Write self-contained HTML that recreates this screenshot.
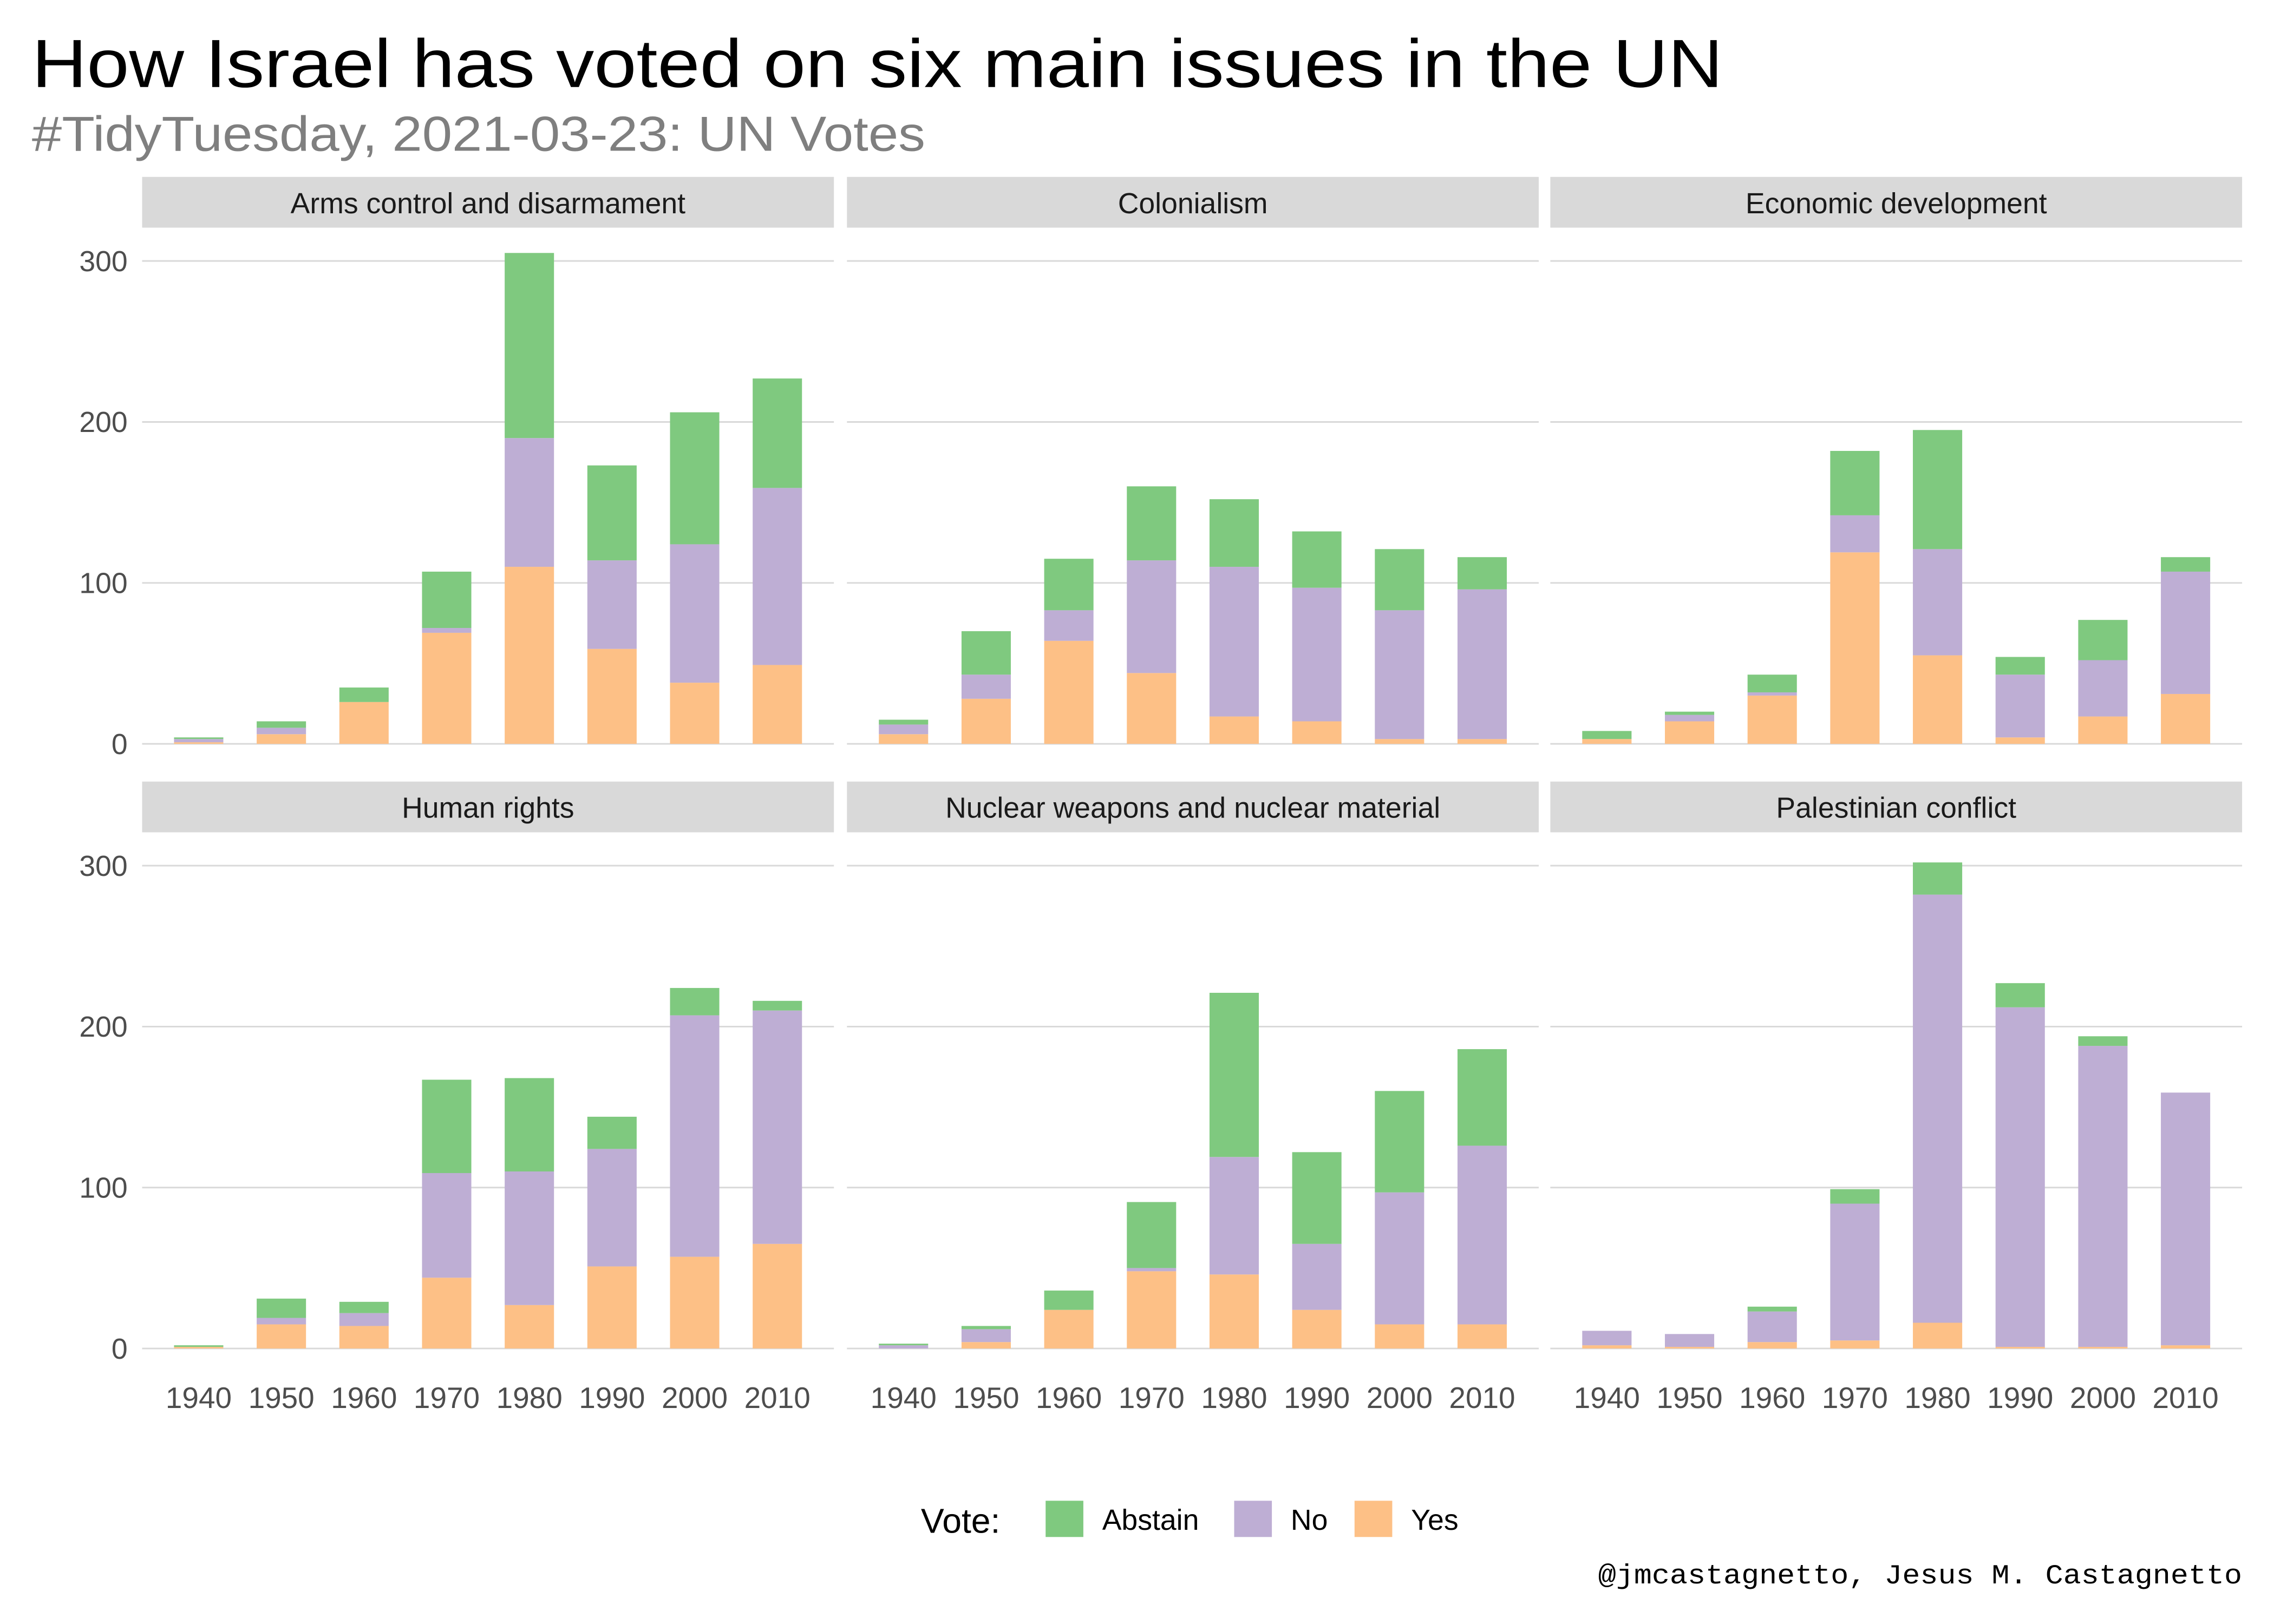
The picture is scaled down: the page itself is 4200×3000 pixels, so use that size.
<!DOCTYPE html>
<html><head><meta charset="utf-8"><style>
html,body{margin:0;padding:0;background:#fff}
svg{display:block}
text{font-family:"Liberation Sans",sans-serif}
</style></head><body>
<svg id="chart" width="4200" height="3000" viewBox="0 0 1568 1120" xmlns="http://www.w3.org/2000/svg">
<rect width="1568" height="1120" fill="#fff"/>
<text x="22" y="60" font-size="47" fill="#000" textLength="1166" lengthAdjust="spacingAndGlyphs">How Israel has voted on six main issues in the UN</text>
<text x="22" y="104" font-size="34" fill="#7f7f7f" textLength="616" lengthAdjust="spacingAndGlyphs">#TidyTuesday, 2021-03-23: UN Votes</text>
<g id="panels"></g>
<g>
<text x="635" y="1057" font-size="24" fill="#000">Vote:</text>
<rect x="721" y="1035" width="26" height="25" fill="#7fc97f"/>
<text x="760" y="1055" font-size="20" fill="#000">Abstain</text>
<rect x="851" y="1035" width="26" height="25" fill="#beaed4"/>
<text x="890" y="1055" font-size="20" fill="#000">No</text>
<rect x="934" y="1035" width="26" height="25" fill="#fdc086"/>
<text x="973" y="1055" font-size="20" fill="#000">Yes</text>
</g>
<text x="1546" y="1092" font-size="19" text-anchor="end" style="font-family:'Liberation Mono',monospace" fill="#000" textLength="444" lengthAdjust="spacingAndGlyphs">@jmcastagnetto, Jesus M. Castagnetto</text>
</svg>
<script>
const issues = ["Arms control and disarmament","Colonialism","Economic development","Human rights","Nuclear weapons and nuclear material","Palestinian conflict"];
const decades = [1940,1950,1960,1970,1980,1990,2000,2010];
const yTicks = [0,100,200,300];
const yesVotes = [
 [1,6,26,69,110,59,38,49],
 [6,28,64,44,17,14,3,3],
 [3,14,30,119,55,4,17,31],
 [1,15,14,44,27,51,57,65],
 [0,4,24,48,46,24,15,15],
 [2,1,4,5,16,1,1,2]];
const noVotes = [
 [2,4,0,3,80,55,86,110],
 [6,15,19,70,93,83,80,93],
 [0,4,2,23,66,39,35,76],
 [0,4,8,65,83,73,150,145],
 [2,8,0,2,73,41,82,111],
 [9,8,19,85,266,211,187,157]];
const abstainVotes = [
 [1,4,9,35,115,59,82,68],
 [3,27,32,46,42,35,38,20],
 [5,2,11,40,74,11,25,9],
 [1,12,7,58,58,20,17,6],
 [1,2,12,41,102,57,63,60],
 [0,0,3,9,20,15,6,0]];

const NS="http://www.w3.org/2000/svg";
const root=document.getElementById('panels');
function mk(tag,attrs,parent){const e=document.createElementNS(NS,tag);for(const k in attrs)e.setAttribute(k,attrs[k]);parent.appendChild(e);return e;}
const colX=[98,584,1069], pw=477;
const rowStrip=[122,539], rowZero=[513,930];
const pxPerUnit=333/300;
const bandStep=57, barW=34;
issues.forEach((iss,i)=>{
  const r=Math.floor(i/3), c=i%3;
  const x0=colX[c], y0=rowZero[r];
  const g=mk('g',{},root);
  
  
  const yS=v=>y0-v*pxPerUnit;
  const xS=k=>x0+39+k*bandStep;
  yTicks.forEach(t=>{
    const ln=mk('line',{x1:x0,x2:x0+pw,y1:yS(t),y2:yS(t),stroke:'#d9d9d9','stroke-width':1.1},g);
    
    
    if(c===0){
      const tx=mk('text',{x:x0-10,y:yS(t)+7,'font-size':20,'text-anchor':'end',fill:'#4d4d4d'},g);
      
      
      tx.textContent=t;
    }
  });
  const st=mk('rect',{x:x0,y:rowStrip[r],width:pw,height:35,fill:'#d9d9d9'},g);
  
  
  const sl=mk('text',{x:x0+pw/2,y:rowStrip[r]+25,'font-size':20,'text-anchor':'middle',fill:'#1a1a1a'},g);
  
  
  sl.textContent=iss;
  decades.forEach((d,k)=>{
    const segs=[[yesVotes[i][k],'#fdc086','yes'],[noVotes[i][k],'#beaed4','no'],[abstainVotes[i][k],'#7fc97f','abstain']];
    let acc=0;
    segs.forEach(s=>{
      if(s[0]<=0)return;
      const b=mk('rect',{x:xS(k)-barW/2,y:yS(acc+s[0]),width:barW,height:s[0]*pxPerUnit,fill:s[1]},g);
      
      
      acc+=s[0];
    });
    if(r===1){
      const xl=mk('text',{x:xS(k),y:971,'font-size':20.5,'text-anchor':'middle',fill:'#4d4d4d'},g);
      
      
      xl.textContent=d;
    }
  });
});
</script>
</body></html>
